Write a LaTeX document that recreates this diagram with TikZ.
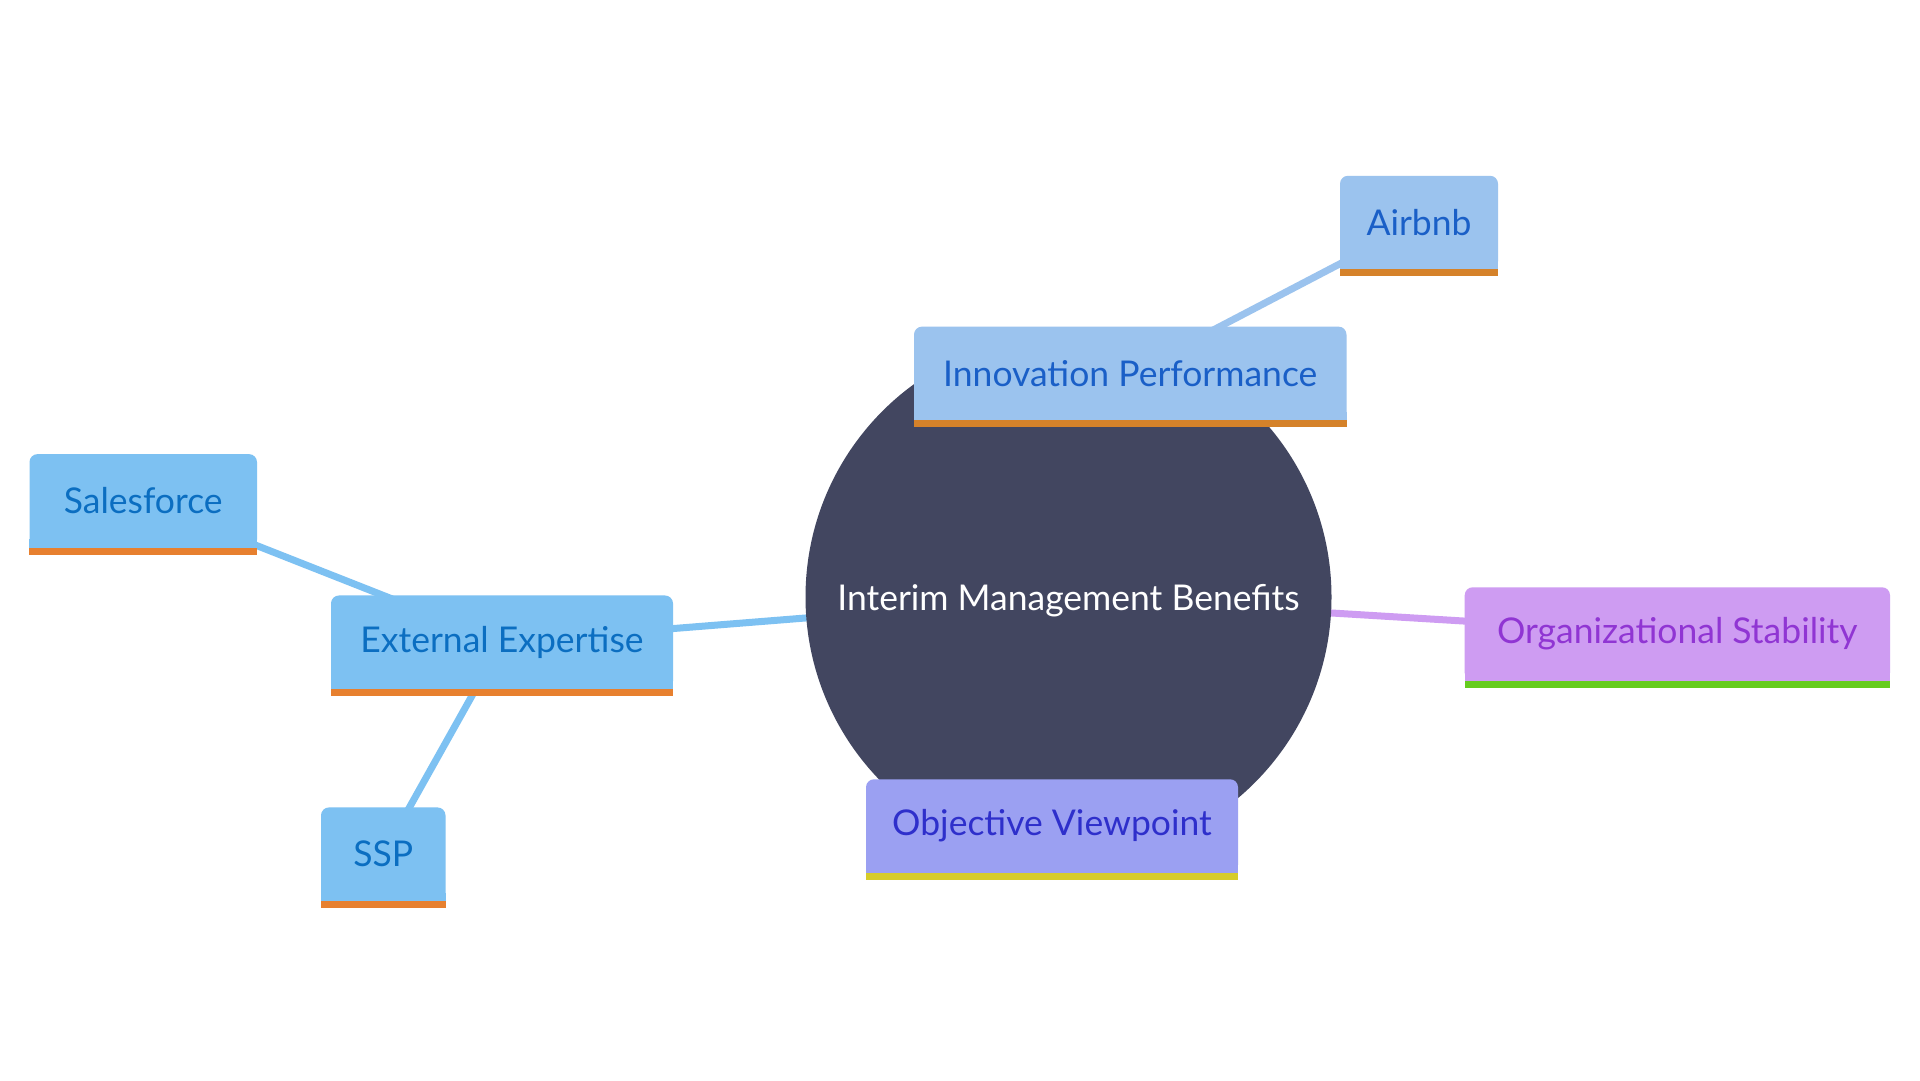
\documentclass[tikz,border=0pt]{standalone}
\usepackage{fontspec}
\setmainfont{Lato}
\usetikzlibrary{backgrounds}
\definecolor{core}{HTML}{424660}
\definecolor{innfill}{HTML}{9BC3EE}
\definecolor{inntext}{HTML}{1A5FC7}
\definecolor{innbar}{HTML}{D5822A}
\definecolor{extfill}{HTML}{7DC1F2}
\definecolor{exttext}{HTML}{0B6EC1}
\definecolor{extbar}{HTML}{E7802F}
\definecolor{orgfill}{HTML}{CE9CF2}
\definecolor{orgtext}{HTML}{9035D3}
\definecolor{orgbar}{HTML}{66CC1F}
\definecolor{objfill}{HTML}{9BA0F2}
\definecolor{objtext}{HTML}{2E2FCB}
\definecolor{objbar}{HTML}{D6CC2A}
\newcommand\mmbar[3]{%
  \fill[#2] ([yshift=8.5pt]#1.south west) rectangle (#1.south east);
  \fill[#3] (#1.south west) rectangle ([yshift=-7pt]#1.south east);}
\begin{document}
\begin{tikzpicture}[x=1pt,y=-1pt,
  box/.style={rounded corners=8pt, inner sep=0pt, font=\fontsize{35.5}{40}\selectfont, minimum height=93.5pt},
  link/.style={line width=7pt}]
\begin{pgfonlayer}{background}
\fill[white] (0,0) rectangle (1920,1080);
\end{pgfonlayer}
\useasboundingbox (0,0) rectangle (1920,1080);
\node[circle, fill=core, minimum size=526pt, inner sep=0pt, text=white, font=\fontsize{35.5}{40}\selectfont] (root) at (1068.5,597) {\raisebox{-4pt}[\height][\depth]{Interim Management Benefits}};
\node[box, fill=innfill, text=inntext, minimum width=432.5pt] (inn) at (1130.25,373.35) {Innovation Performance};
\node[box, fill=innfill, text=inntext, minimum width=158pt] (air) at (1419,222.5) {Airbnb};
\node[box, fill=extfill, text=exttext, minimum width=342pt] (ext) at (502,642.2) {External Expertise};
\node[box, fill=extfill, text=exttext, minimum width=227.5pt] (sal) at (143.25,500.85) {Salesforce};
\node[box, fill=extfill, text=exttext, minimum width=124.5pt] (ssp) at (383.25,854.15) {SSP};
\node[box, fill=orgfill, text=orgtext, minimum width=425.3pt] (org) at (1677.35,634) {Organizational Stability};
\node[box, fill=objfill, text=objtext, minimum width=372pt] (obj) at (1052,826) {Objective Viewpoint};
\mmbar{inn}{innfill}{innbar}
\mmbar{air}{innfill}{innbar}
\mmbar{ext}{extfill}{extbar}
\mmbar{sal}{extfill}{extbar}
\mmbar{ssp}{extfill}{extbar}
\mmbar{org}{orgfill}{orgbar}
\mmbar{obj}{objfill}{objbar}
\begin{pgfonlayer}{background}
\draw[link, innfill] (root.center) -- (inn.center);
\draw[link, innfill] (inn.center) -- (air.center);
\draw[link, extfill] (root.center) -- (ext.center);
\draw[link, extfill] (ext.center) -- (sal.center);
\draw[link, extfill] (ext.center) -- (ssp.center);
\draw[link, orgfill] (root.center) -- (org.center);
\draw[link, objfill] (root.center) -- (obj.center);
\end{pgfonlayer}
\end{tikzpicture}
\end{document}
